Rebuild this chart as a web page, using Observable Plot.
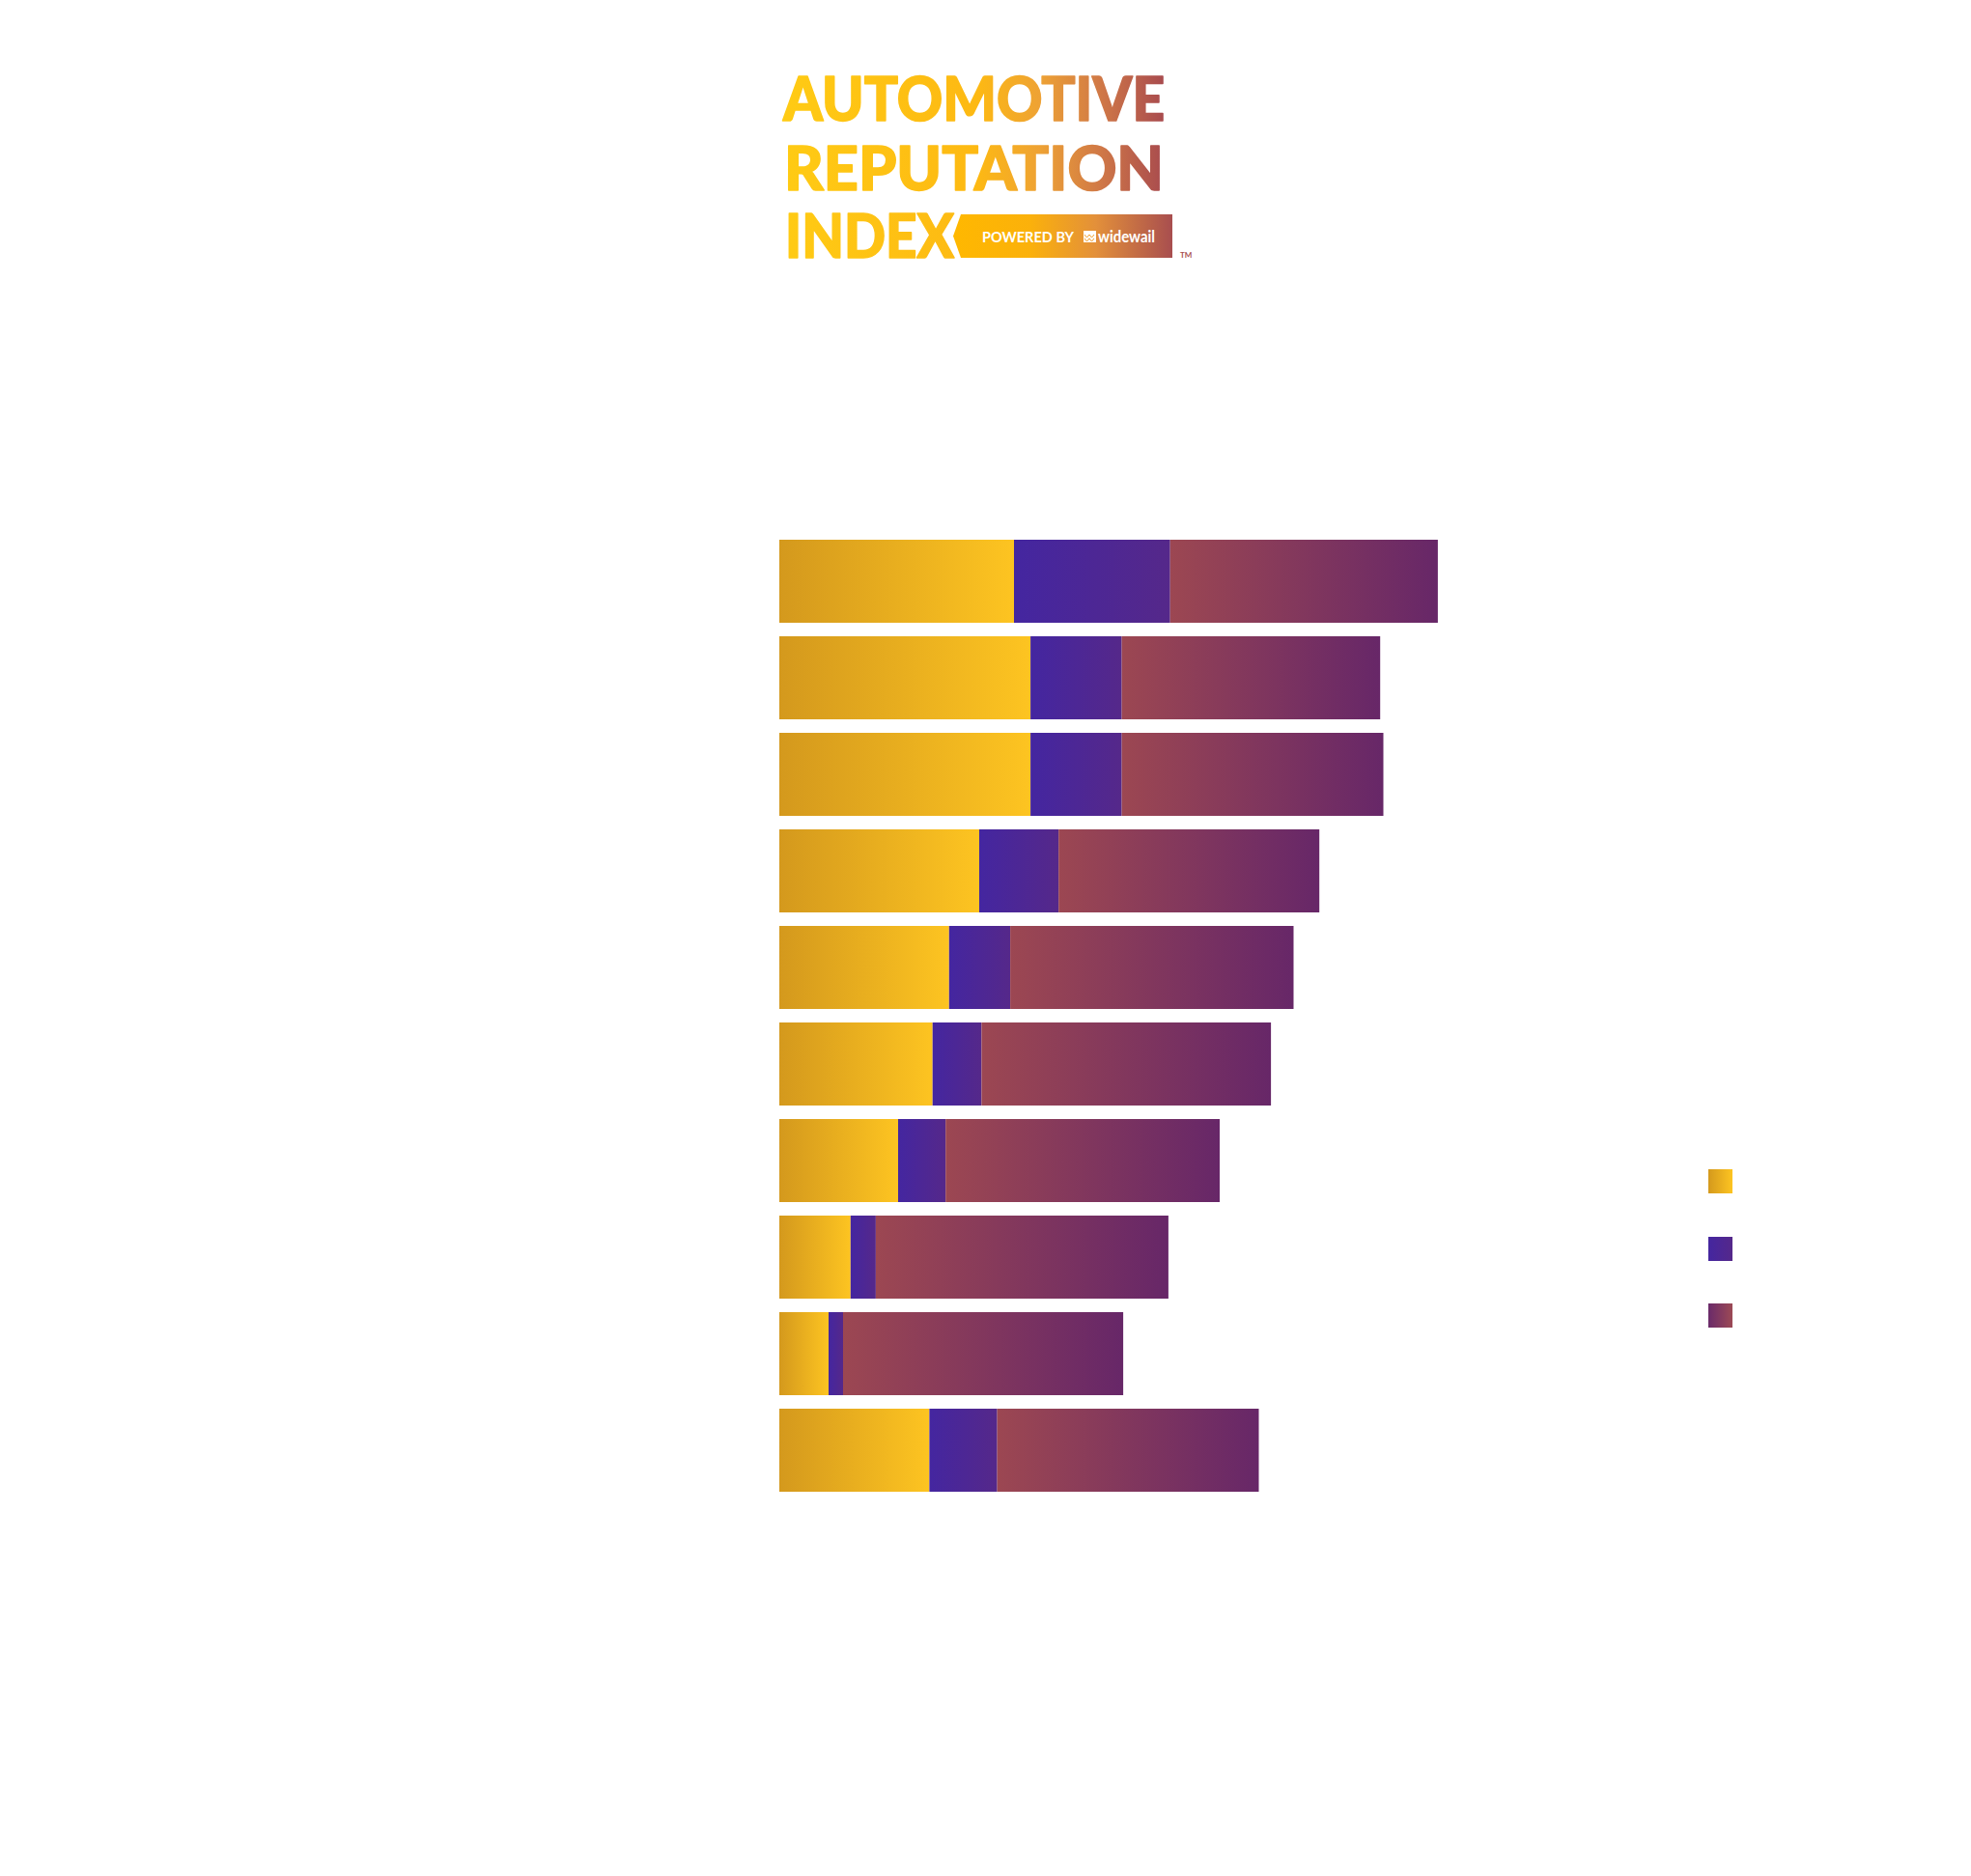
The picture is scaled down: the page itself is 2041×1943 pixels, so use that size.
<!DOCTYPE html>
<html>
<head>
<meta charset="utf-8">
<script src="https://cdn.jsdelivr.net/npm/d3@7"></script>
<script src="https://cdn.jsdelivr.net/npm/@observablehq/plot@0.6"></script>
<style>
  html, body { margin: 0; padding: 0; background: #ffffff; }
  #wrap { position: relative; width: 2041px; height: 1943px; overflow: hidden; }
  #wrap > svg { position: absolute; left: 0; top: 0; }
</style>
</head>
<body>
<div id="wrap"></div>
<script>
// ---------------- data ----------------
const brands = ["Brand 1", "Brand 2", "Brand 3", "Brand 4", "Brand 5",
                "Brand 6", "Brand 7", "Brand 8", "Brand 9", "Brand 10"];
const series = ["Segment 1", "Segment 2", "Segment 3"];
const segment1 = [81.0, 86.7, 86.7, 69.0, 58.6, 52.9, 41.0, 24.6, 17.0, 51.8];
const segment2 = [53.9, 31.5, 31.5, 27.4, 21.1, 16.9, 16.4, 8.7, 5.0, 23.4];
const segment3 = [92.4, 89.2, 90.3, 90.0, 97.8, 99.9, 94.6, 101.0, 96.7, 90.3];
const seriesValues = [segment1, segment2, segment3];

const logoLines = ["AUTOMOTIVE", "REPUTATION", "INDEX"];
const poweredBy = "POWERED BY";
const poweredBrand = "widewail";

// gradient definitions (left -> right)
const gradients = [
  {id: "g-gold", from: "#d4991d", to: "#fdc421"},
  {id: "g-blue", from: "#4426a0", to: "#55288a"},
  {id: "g-plum", from: "#9c4752", to: "#672768"}
];

const data = brands.flatMap((b, i) =>
  series.map((s, j) => ({brand: b, series: s, value: seriesValues[j][i]})));

// ---------------- chart ----------------
const plot = Plot.plot({
  width: 2041,
  height: 1943,
  marginLeft: 807,
  marginRight: 34,
  marginTop: 557,
  marginBottom: 396,
  style: {background: "#ffffff"},
  x: {domain: [0, 400], axis: null},
  y: {domain: brands, axis: null, paddingInner: 0.144, paddingOuter: 0},
  color: {domain: series, range: gradients.map(g => `url(#${g.id})`)},
  marks: [
    Plot.barX(data, Plot.stackX({y: "brand", x: "value", fill: "series"}))
  ]
});

const svg = d3.select(plot);
const defs = svg.insert("defs", ":first-child");
function addGradient(sel, id, from, to) {
  const g = sel.append("linearGradient").attr("id", id)
    .attr("x1", 0).attr("x2", 1).attr("y1", 0).attr("y2", 0);
  g.append("stop").attr("offset", "0%").attr("stop-color", from);
  g.append("stop").attr("offset", "100%").attr("stop-color", to);
  return g;
}
gradients.forEach(g => addGradient(defs, g.id, g.from, g.to));
addGradient(defs, "g-plum-rev", "#6a2a6a", "#9c4a55");

document.getElementById("wrap").appendChild(plot);

// ---------------- overlay: logo + legend ----------------
const ov = d3.select("#wrap").append("svg")
  .attr("width", 2041).attr("height", 1943)
  .style("pointer-events", "none");
const odefs = ov.append("defs");

// logo text gradient
const lg = odefs.append("linearGradient").attr("id", "logo-grad")
  .attr("gradientUnits", "userSpaceOnUse")
  .attr("x1", 810).attr("x2", 1214).attr("y1", 0).attr("y2", 0);
[[0, "#ffcb14"], [0.5, "#fdb913"], [0.66, "#eea234"], [0.82, "#cf7747"], [1, "#a3454f"]]
  .forEach(([o, c]) => lg.append("stop").attr("offset", o).attr("stop-color", c));

const bg = odefs.append("linearGradient").attr("id", "badge-grad")
  .attr("gradientUnits", "userSpaceOnUse")
  .attr("x1", 987).attr("x2", 1214).attr("y1", 0).attr("y2", 0);
[[0, "#ffb800"], [0.35, "#fbb10b"], [0.65, "#e3903a"], [1, "#a84e4f"]]
  .forEach(([o, c]) => bg.append("stop").attr("offset", o).attr("stop-color", c));

const logoFont = "Lato, 'Noto Sans', sans-serif";
const logoSpecs = [
  {x: 811, y: 125, len: 395},
  {x: 812, y: 197, len: 393},
  {x: 813, y: 267, len: 175}
];
logoLines.forEach((t, i) => {
  ov.append("text")
    .attr("x", logoSpecs[i].x).attr("y", logoSpecs[i].y)
    .attr("textLength", logoSpecs[i].len)
    .attr("lengthAdjust", "spacingAndGlyphs")
    .attr("font-family", logoFont)
    .attr("font-weight", 900)
    .attr("font-size", 63)
    .attr("fill", "url(#logo-grad)")
    .attr("stroke", "url(#logo-grad)")
    .attr("stroke-width", 1.6)
    .attr("stroke-linejoin", "round")
    .text(t);
});

// badge
ov.append("polygon")
  .attr("points", "995,222 1214,222 1214,267 995,267 987,244.5")
  .attr("fill", "url(#badge-grad)");
ov.append("text")
  .attr("x", 1017).attr("y", 251)
  .attr("textLength", 95).attr("lengthAdjust", "spacingAndGlyphs")
  .attr("font-family", logoFont).attr("font-weight", 700)
  .attr("font-size", 15.5).attr("fill", "#ffffff")
  .text(poweredBy);
// little widewail mark
const mark = ov.append("g");
mark.append("rect").attr("x", 1122).attr("y", 239).attr("width", 13).attr("height", 12)
  .attr("fill", "#ffffff");
mark.append("path")
  .attr("d", "M1123,243 l2.5,3 l2.5,-3 l2.5,3 l2.5,-3 M1123,247 l2.5,3 l2.5,-3 l2.5,3 l2.5,-3")
  .attr("stroke", "#f0a030").attr("stroke-width", 1).attr("fill", "none");
ov.append("text")
  .attr("x", 1137).attr("y", 251)
  .attr("textLength", 59).attr("lengthAdjust", "spacingAndGlyphs")
  .attr("font-family", logoFont).attr("font-weight", 700)
  .attr("font-size", 17).attr("fill", "#ffffff")
  .text(poweredBrand);
ov.append("text")
  .attr("x", 1222).attr("y", 267)
  .attr("font-family", logoFont).attr("font-weight", 700)
  .attr("font-size", 8).attr("fill", "#a8504f")
  .text("TM");

// legend swatches
const legendFills = ["url(#g-gold)", "url(#g-blue)", "url(#g-plum-rev)"];
const legendY = [1211, 1281, 1350];
series.forEach((s, i) => {
  ov.append("rect")
    .attr("x", 1769).attr("y", legendY[i])
    .attr("width", 25).attr("height", 25)
    .attr("fill", legendFills[i]);
});
</script>
</body>
</html>
